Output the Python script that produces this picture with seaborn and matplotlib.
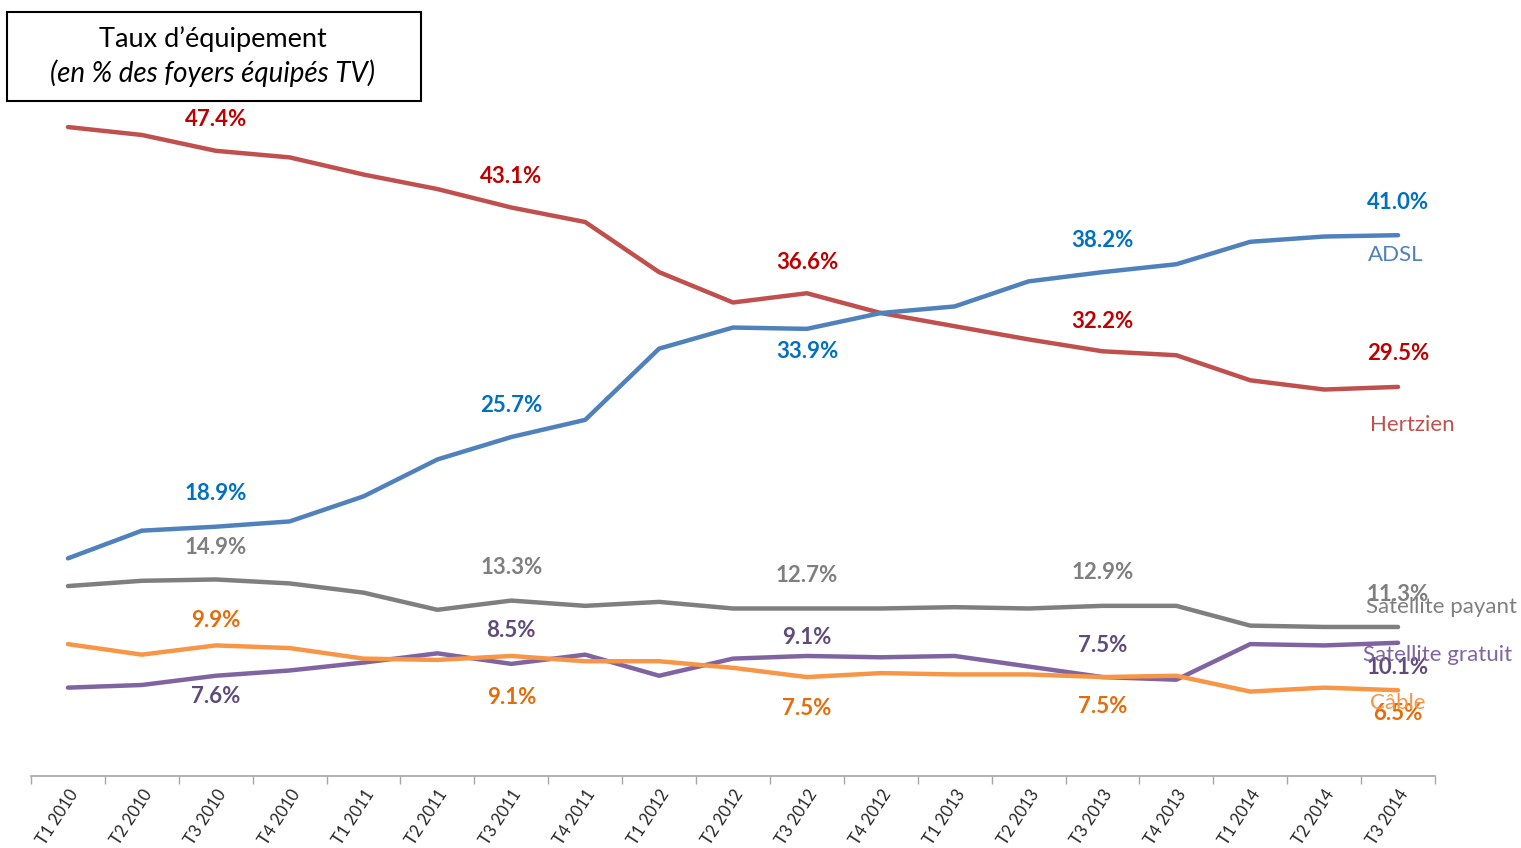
import numpy as np
import pandas as pd
import matplotlib
matplotlib.use("Agg")
import matplotlib.pyplot as plt
import seaborn as sns
from matplotlib.patches import Rectangle

quarters = ["T1 2010", "T2 2010", "T3 2010", "T4 2010", "T1 2011", "T2 2011", "T3 2011",
            "T4 2011", "T1 2012", "T2 2012", "T3 2012", "T4 2012", "T1 2013", "T2 2013",
            "T3 2013", "T4 2013", "T1 2014", "T2 2014", "T3 2014"]

hertzien = [49.2, 48.6, 47.4, 46.9, 45.6, 44.5, 43.1, 42.0, 38.2, 35.9, 36.6, 35.1, 34.1, 33.1, 32.2, 31.9, 30.0, 29.3, 29.5]
adsl = [16.5, 18.6, 18.9, 19.3, 21.2, 24.0, 25.7, 27.0, 32.4, 34.0, 33.9, 35.1, 35.6, 37.5, 38.2, 38.8, 40.5, 40.9, 41.0]
sat_payant = [14.4, 14.8, 14.9, 14.6, 13.9, 12.6, 13.3, 12.9, 13.2, 12.7, 12.7, 12.7, 12.8, 12.7, 12.9, 12.9, 11.4, 11.3, 11.3]
sat_gratuit = [6.7, 6.9, 7.6, 8.0, 8.6, 9.3, 8.5, 9.2, 7.6, 8.9, 9.1, 9.0, 9.1, 8.3, 7.5, 7.3, 10.0, 9.9, 10.1]
cable = [10.0, 9.2, 9.9, 9.7, 8.9, 8.8, 9.1, 8.7, 8.7, 8.2, 7.5, 7.8, 7.7, 7.7, 7.5, 7.6, 6.4, 6.7, 6.5]

series_names = ["Hertzien", "ADSL", "Satellite payant", "Satellite gratuit", "Câble"]
series_values = [hertzien, adsl, sat_payant, sat_gratuit, cable]
labelled_idx = [2, 6, 10, 14, 18]

line_colors = ["#C0504D", "#4F81BD", "#7F7F7F", "#8064A2", "#F79646"]
label_colors = ["#C00000", "#0070C0", "#7F7F7F", "#604A7B", "#E46C0A"]
# vertical offsets (pixels, positive = up) of data labels for each series at labelled points
label_offsets = [
    [31, 31, 31, 30, 33],
    [33, 32, -23, 32, 33],
    [32, 33, 33, 33, 32],
    [-21, 33, 18, 32, -25],
    [25, -42, -31, -29, -23],
]
end_label_pos = [(1412, 425), (1396, 255), (1442, 607), (1438, 655), (1398, 703)]

rows = []
for name, vals in zip(series_names, series_values):
    for i, v in enumerate(vals):
        rows.append({"x": i, "value": v, "serie": name})
df = pd.DataFrame(rows)

sns.set_theme(style="white")
plt.rcParams["font.family"] = ["Lato", "DejaVu Sans"]

W, H = 1521, 848
fig = plt.figure(figsize=(W / 100, H / 100), dpi=100)
left_px, right_px, zero_px = 31, 1435, 776
ax = fig.add_axes([left_px / W, 1 - zero_px / H, (right_px - left_px) / W, zero_px / H])
ppu = 13.19
ax.set_ylim(0, zero_px / ppu)
ax.set_xlim(-0.5, len(quarters) - 0.5)

sns.lineplot(data=df, x="x", y="value", hue="serie", hue_order=series_names,
             palette=dict(zip(series_names, line_colors)), linewidth=3.2,
             legend=False, ax=ax, solid_capstyle="round")

for s, vals in enumerate(series_values):
    for k, i in enumerate(labelled_idx):
        off = label_offsets[s][k] * 72 / 100
        ax.annotate(f"{vals[i]:.1f}%", (i, vals[i]), xytext=(0, off), textcoords="offset points",
                    ha="center", va="center", fontsize=16, fontweight="bold", color=label_colors[s])

for name, (px, py), col in zip(series_names, end_label_pos, line_colors):
    fig.text(px / W, 1 - py / H, name, ha="center", va="center", fontsize=16, color=col)

# axes styling
for sp in ["top", "right", "left"]:
    ax.spines[sp].set_visible(False)
ax.spines["bottom"].set_color("#A6A6A6")
ax.spines["bottom"].set_linewidth(1.2)
ax.set_yticks([])
ax.set_ylabel("")
ax.set_xlabel("")
ax.set_xticks(range(len(quarters)))
ax.set_xticklabels(quarters, rotation=57, ha="right", rotation_mode="anchor",
                   fontsize=12, color="#262626")
ax.set_xticks(np.arange(-0.5, len(quarters)), minor=True)
ax.tick_params(axis="x", which="major", length=0, pad=8)
ax.tick_params(axis="x", which="minor", length=6, width=1, color="#A6A6A6", bottom=True)

# title box
fig.patches.append(Rectangle((7 / W, 1 - 101 / H), (421 - 7) / W, (101 - 12) / H,
                             transform=fig.transFigure, fill=False, edgecolor="black",
                             linewidth=1.5))
fig.text(213 / W, 1 - 39 / H, "Taux d\u2019équipement", ha="center", va="center",
         fontsize=19.5, color="black")
fig.text(213 / W, 1 - 73 / H, "(en % des foyers équipés TV)", ha="center", va="center",
         fontsize=20, style="italic", color="black")

fig.savefig("out.png", dpi=100)
